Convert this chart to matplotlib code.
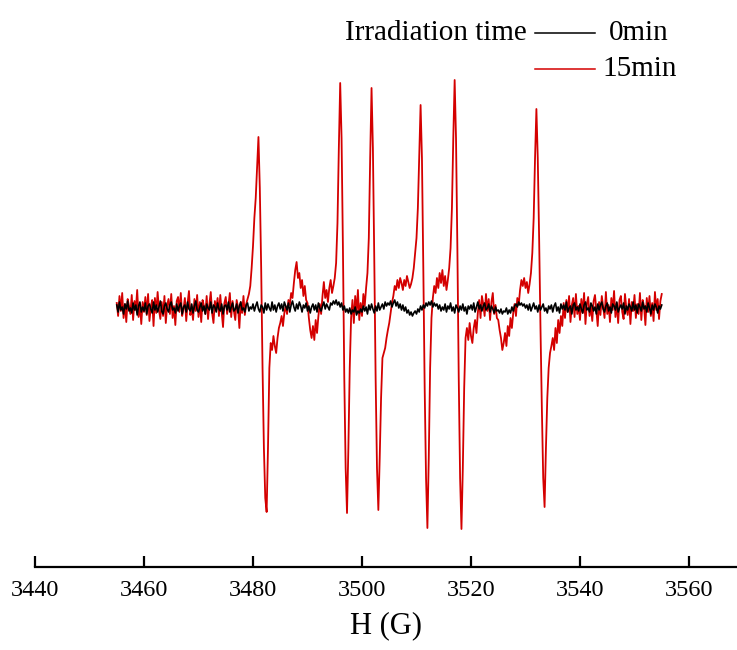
import numpy as np
import matplotlib
matplotlib.use("Agg")
import matplotlib.pyplot as plt
from matplotlib.lines import Line2D

# Field sweep (G) and EPR signal amplitudes (arbitrary units, baseline = 0)
H_start, H_end = 3455.0, 3555.0

signal_15min = [
    5, -8, 12, -3, 15, -10, 4, -14, 9, 2, -6, 13, -12, 7, -2, 18, -9, 3, -16, 6,
    -4, 11, -7, 14, -13, 1, 8, -18, 10, -5, 16, -2, -11, 6, -8, 12, -15, 3, 9, -6,
    14, -10, 2, -17, 7, 11, -4, 15, -8, -1, 10, -13, 5, 17, -7, 0, -12, 9, -3, 13,
    -9, 6, -14, 8, 2, -6, 12, -11, 4, 16, -5, -15, 7, -2, 10, -8, 13, -4, -19, 5,
    11, -6, 3, 15, -9, 7, -3, -12, 8, 1, -20, 6, -5, 12, -7, 4, 9, 14, 22, 40,
    62, 90, 110, 140, 171, 120, 40, -60, -140, -190, -204, -140, -60, -35, -42, -28, -38, -45, -30, -20,
    -15, -8, -18, -5, 2, -6, 8, 3, 15, 10, 25, 38, 46, 30, 35, 20, 28, 12, 22, 8,
    5, -10, -22, -30, -18, -32, -12, -25, -8, 4, -6, 12, 26, 10, 18, 6, 20, 28, 15, 22,
    30, 45, 85, 160, 225, 170, 60, -70, -160, -205, -140, -60, -10, 8, -15, 12, -5, 18, -12, 5,
    -8, 14, 2, 20, 35, 70, 150, 220, 160, 50, -70, -160, -202, -150, -90, -50, -45, -40, -30, -22,
    -15, -5, 5, 12, 22, 18, 28, 20, 30, 25, 18, 28, 22, 32, 26, 20, 24, 30, 40, 55,
    70, 100, 150, 203, 150, 40, -80, -170, -220, -150, -60, -10, 10, 22, 15, 30, 20, 35, 25, 38,
    22, 32, 18, 28, 40, 60, 100, 170, 228, 170, 60, -70, -170, -221, -160, -80, -30, -20, -32, -15,
    -28, -35, -20, -12, -25, -5, 8, -10, 12, 4, -8, 14, -3, 9, -12, 6, 15, -6, 3, -10,
    -12, -22, -30, -42, -35, -25, -38, -18, -28, -10, -20, -5, 4, -8, 10, 3, 18, 28, 22, 30,
    20, 26, 15, 24, 35, 55, 90, 150, 199, 150, 70, -20, -100, -170, -199, -140, -90, -60, -45, -38,
    -30, -42, -20, -35, -12, -25, -8, -18, 5, -10, 8, -4, 12, -14, 3, 10, -9, 14, -6, 2,
    -12, 9, -5, 15, -16, 4, 11, -8, 2, -13, 7, 13, -3, -18, 6, -7, 12, 1, -10, 16,
    -6, 3, -14, 10, -2, 17, -9, 5, -15, 8, 12, -4, -11, 14, 0, -7, 9, -16, 6, -3,
    13, -10, 4, -6, 15, -12, 8, 2, -17, 10, -4, 12, -8, 5, -13, 16, -2, 9, -11, 7, 14,
]

signal_0min = [
    3, -4, 6, -2, 1, -6, 4, -1, 7, -3, 0, -5, 5, -2, 3, -7, 2, 6, -4, 1,
    -3, 5, -6, 2, 4, -1, -5, 6, -2, 3, -4, 1, 7, -3, -6, 2, 5, -1, -4, 3,
    6, -2, 0, -5, 4, -3, 2, 5, -6, 1, 3, -4, 6, -1, -3, 4, -5, 2, 7, -2,
    -4, 1, 5, -3, 2, -6, 4, 0, -2, 6, -5, 3, 1, -4, 5, -1, -3, 4, -6, 2,
    3, -2, 6, -4, 1, 5, -3, -1, 4, -5, 2, 6, -2, 0, -4, 3, 5, -3, 1, -1,
    4, -3, 2, 6, -1, -4, 3, 1, -5, 5, -2, 4, 0, -3, 6, -2, 3, -4, 2, 5,
    -1, 4, -3, 6, 2, -2, 5, -4, 3, 7, 1, -3, 4, -1, 6, 2, -4, 3, 0, 5,
    -3, 2, -5, 1, 4, -2, 3, -4, 5, 0, -3, 2, 6, -1, 4, 1, -2, 5, 3, 7,
    4, 8, 3, 6, 1, 5, -2, 2, -4, -1, -5, 0, -6, -2, -4, 1, -7, -3, -5, -1,
    -4, 2, -3, 1, -6, 3, -2, 4, -1, -5, 2, -3, 5, -2, 1, 4, -1, 6, 2, 5,
    3, 7, 1, 5, 8, 2, 6, 0, 4, -2, 3, -3, 1, -5, -2, -7, -4, -8, -5, -3,
    -6, -1, -4, 2, -2, 3, 0, 5, 2, 6, 3, 7, 1, 5, 2, 4, -1, 3, -3, 1,
    -2, 4, -4, 2, -1, 5, -3, 1, -5, 3, 0, -4, 2, -2, 4, -3, 1, -6, 2, -1,
    3, -2, 5, -4, 1, 6, -1, 3, -3, 2, 5, -2, 0, 4, -4, 2, -1, -5, 1, -3,
    -2, -5, -1, -6, -3, -4, 0, -6, -2, -5, 1, -3, 2, 4, 1, 6, 3, 5, 2, 4,
    0, 3, -2, 4, -3, 1, 5, -1, 2, -4, 3, -2, 1, 4, -3, 0, -5, 2, -1, 3,
    -4, 2, 5, -3, 1, -5, 4, -1, 3, -2, 6, -4, 0, 2, -6, 3, 5, -2, 1, -3,
    4, -1, -5, 3, 6, -2, 0, -4, 5, 2, -3, 1, -6, 4, -2, 3, 6, -1, -4, 2,
    5, -3, 1, -5, 4, 2, -2, 6, -4, 0, 3, -1, 5, -6, 2, -2, 4, 1, -3, 6,
    -2, 3, -5, 4, 1, -3, 6, -1, 2, -4, 5, 0, -6, 3, -2, 4, 1, -5, 2, -1, 3,
]

series_labels = ["0min", "15min"]
legend_title = "Irradiation time"
x_ticks = [3440, 3460, 3480, 3500, 3520, 3540, 3560]
x_label = "H (G)"

H_15 = np.linspace(H_start, H_end, len(signal_15min))
H_0 = np.linspace(H_start, H_end, len(signal_0min))

plt.rcParams["font.family"] = ["Liberation Serif", "DejaVu Serif"]

W, Hh = 737, 650
fig = plt.figure(figsize=(W / 100, Hh / 100), dpi=100)
ax = fig.add_axes([35 / W, (Hh - 567) / Hh, 1 - 35 / W, 567 / Hh])

red = "#d40000"
ax.plot(H_15, signal_15min, color=red, lw=1.3, zorder=2)
ax.plot(H_0, signal_0min, color="black", lw=1.2, zorder=3)

ax.set_xlim(3440, 3440 + (W - 35) / 5.45)
ax.set_ylim(-259, 308)
ax.set_xticks(x_ticks)
ax.set_yticks([])
for s in ["top", "left", "right"]:
    ax.spines[s].set_visible(False)
ax.spines["bottom"].set_linewidth(1.6)
ax.tick_params(axis="x", direction="in", length=8, width=1.6, pad=9, labelsize=17.5)
ax.set_xlabel(x_label, fontsize=22, labelpad=8)
ax.patch.set_alpha(0)

# Legend drawn manually (title to the left of the entries)
def fx(px):
    return px / W

def fy(py):
    return 1 - py / Hh

fig.text(fx(527), fy(33), legend_title, ha="right", va="center", fontsize=21)
fig.add_artist(Line2D([fx(535), fx(595)], [fy(33), fy(33)], color="black", lw=1.1,
                      transform=fig.transFigure))
fig.add_artist(Line2D([fx(535), fx(595)], [fy(69), fy(69)], color=red, lw=1.1,
                      transform=fig.transFigure))
fig.text(fx(639), fy(33), series_labels[0], ha="center", va="center", fontsize=21)
fig.text(fx(640), fy(69), series_labels[1], ha="center", va="center", fontsize=21)

fig.savefig("out.png", dpi=100)
